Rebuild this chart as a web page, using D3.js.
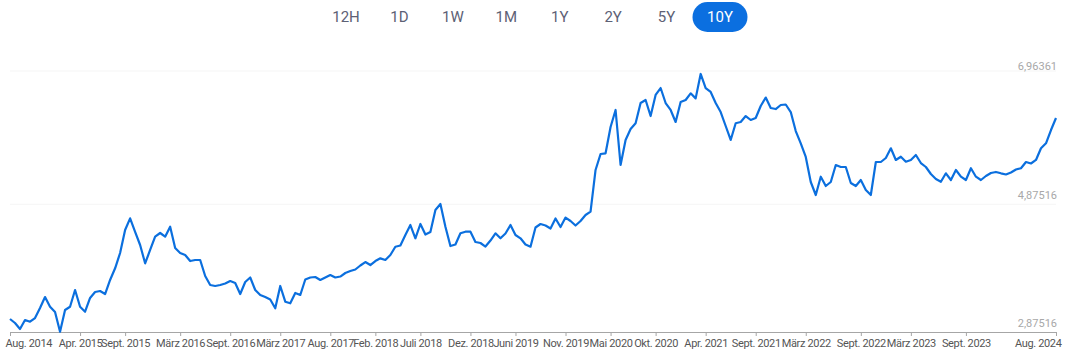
<!DOCTYPE html>
<html>
<head>
<meta charset="utf-8">
<script src="https://cdnjs.cloudflare.com/ajax/libs/d3/7.8.5/d3.min.js"></script>
<style>
  body { margin: 0; background: #fff; }
  svg { display: block; font-family: Roboto, "Noto Sans", sans-serif; }
</style>
</head>
<body>
<div id="chart"></div>
<script>
// range buttons
var ranges = ["12H", "1D", "1W", "1M", "1Y", "2Y", "5Y", "10Y"];
var activeRange = "10Y";

// price series, Aug. 2014 - Aug. 2024, evenly spaced samples
var values = [
  3.079, 3.016, 2.922, 3.063, 3.036, 3.094, 3.251, 3.423, 3.271, 3.188,
  2.880, 3.220, 3.271, 3.533, 3.271, 3.193, 3.408, 3.502, 3.517, 3.470,
  3.690, 3.873, 4.113, 4.473, 4.656, 4.442, 4.238, 3.951, 4.160, 4.368,
  4.426, 4.368, 4.525, 4.191, 4.113, 4.081, 3.987, 4.003, 4.003, 3.752,
  3.611, 3.596, 3.611, 3.635, 3.674, 3.643, 3.470, 3.658, 3.729, 3.533,
  3.455, 3.423, 3.384, 3.246, 3.596, 3.350, 3.325, 3.486, 3.455, 3.697,
  3.729, 3.737, 3.690, 3.729, 3.768, 3.729, 3.744, 3.799, 3.830, 3.854,
  3.917, 3.971, 3.924, 3.987, 4.029, 4.003, 4.081, 4.211, 4.230, 4.395,
  4.551, 4.343, 4.567, 4.402, 4.442, 4.786, 4.880, 4.524, 4.222, 4.245,
  4.421, 4.446, 4.446, 4.285, 4.269, 4.214, 4.308, 4.421, 4.343, 4.418,
  4.551, 4.395, 4.343, 4.245, 4.211, 4.512, 4.567, 4.543, 4.496, 4.653,
  4.520, 4.668, 4.614, 4.543, 4.614, 4.708, 4.760, 5.413, 5.663, 5.674,
  6.086, 6.353, 5.491, 5.883, 6.055, 6.145, 6.462, 6.509, 6.258, 6.588,
  6.697, 6.462, 6.353, 6.165, 6.477, 6.509, 6.614, 6.535, 6.917, 6.697,
  6.635, 6.462, 6.321, 6.102, 5.883, 6.145, 6.165, 6.258, 6.196, 6.227,
  6.415, 6.548, 6.384, 6.368, 6.431, 6.439, 6.321, 6.023, 5.831, 5.617,
  5.225, 5.021, 5.308, 5.162, 5.225, 5.491, 5.460, 5.460, 5.209, 5.162,
  5.256, 5.100, 5.021, 5.538, 5.538, 5.601, 5.753, 5.570, 5.621, 5.543,
  5.570, 5.648, 5.522, 5.460, 5.350, 5.272, 5.229, 5.361, 5.256, 5.413,
  5.308, 5.256, 5.440, 5.308, 5.256, 5.319, 5.366, 5.382, 5.361, 5.342,
  5.374, 5.421, 5.440, 5.538, 5.515, 5.570, 5.753, 5.831, 6.039, 6.227
];

// x axis ticks: sample index + label
var tickIndex = [0, 14, 23, 34, 44, 54, 64, 73, 82, 92, 101, 111, 120, 129, 139, 149, 159, 170, 180, 191, 209];
var tickLabels = ["Aug. 2014", "Apr. 2015", "Sept. 2015", "März 2016", "Sept. 2016", "März 2017",
  "Aug. 2017", "Feb. 2018", "Juli 2018", "Dez. 2018", "Juni 2019", "Nov. 2019", "Mai 2020",
  "Okt. 2020", "Apr. 2021", "Sept. 2021", "März 2022", "Sept. 2022", "März 2023", "Sept. 2023", "Aug. 2024"];

// y reference levels
var yLevels = [2.87516, 4.87516, 6.96361];
var yLabels = ["2,87516", "4,87516", "6,96361"];

function init() {
  var w = 1070;
  var h = 353;

  var svg = d3.select("#chart")
    .append("svg")
    .attr("width", w)
    .attr("height", h);

  // buttons
  var btnX = d3.scalePoint()
    .domain(ranges)
    .range([346, 720]);

  var btns = svg.selectAll("g.btn")
    .data(ranges)
    .enter()
    .append("g")
    .attr("class", "btn")
    .attr("transform", function(d) { return "translate(" + btnX(d) + ",17)"; });

  btns.filter(function(d) { return d == activeRange; })
    .append("rect")
    .attr("x", -27.5)
    .attr("y", -15)
    .attr("width", 55)
    .attr("height", 30)
    .attr("rx", 15)
    .attr("fill", "#0b6fe0");

  btns.append("text")
    .attr("text-anchor", "middle")
    .attr("dy", "0.36em")
    .attr("font-size", 15)
    .attr("fill", function(d) { return d == activeRange ? "#fff" : "#5d6175"; })
    .text(function(d) { return d; });

  var x = d3.scaleLinear()
    .domain([0, values.length - 1])
    .range([10, 1056]);

  var y = d3.scaleLinear()
    .domain([yLevels[0], yLevels[2]])
    .range([332, 71]);

  // faint grid + labels
  svg.selectAll("line.grid")
    .data(yLevels.slice(1))
    .enter()
    .append("line")
    .attr("class", "grid")
    .attr("x1", 10)
    .attr("x2", 1056)
    .attr("y1", function(d) { return y(d); })
    .attr("y2", function(d) { return y(d); })
    .attr("stroke", "#f5f5f5");

  svg.selectAll("text.ylab")
    .data(yLevels)
    .enter()
    .append("text")
    .attr("class", "ylab")
    .attr("x", 1057)
    .attr("y", function(d) { return Math.max(y(d) - 5, 70); })
    .attr("text-anchor", "end")
    .attr("font-size", 11)
    .attr("fill", "#a8a8a8")
    .text(function(d, i) { return yLabels[i]; });

  // x axis
  var xAxis = d3.axisBottom(x)
    .tickValues(tickIndex)
    .tickFormat(function(d, i) { return tickLabels[i]; })
    .tickSize(4)
    .tickSizeOuter(0)
    .tickPadding(3);

  var gx = svg.append("g")
    .attr("transform", "translate(0,332)")
    .call(xAxis);

  gx.select(".domain").attr("stroke", "#a6a6a6");
  gx.selectAll(".tick line").attr("stroke", "#a6a6a6");
  gx.selectAll(".tick text")
    .attr("font-family", "Roboto, sans-serif")
    .attr("font-size", 11)
    .attr("letter-spacing", "-0.35px")
    .attr("fill", "#555");

  // keep first / last label inside the chart
  gx.selectAll(".tick").each(function(d) {
    var t = d3.select(this).select("text");
    var half = t.node().getComputedTextLength() / 2;
    var cx = x(d);
    var shift = 0;
    if (cx - half < 5) shift = 5 - (cx - half);
    if (cx + half > 1061) shift = 1061 - (cx + half);
    t.attr("x", shift);
  });

  // price line
  var line = d3.line()
    .x(function(d, i) { return x(i); })
    .y(function(d) { return y(d); });

  svg.append("path")
    .datum(values)
    .attr("fill", "none")
    .attr("stroke", "#0b6fde")
    .attr("stroke-width", 2.2)
    .attr("stroke-linejoin", "round")
    .attr("d", line);
}

window.onload = init;
</script>
</body>
</html>
